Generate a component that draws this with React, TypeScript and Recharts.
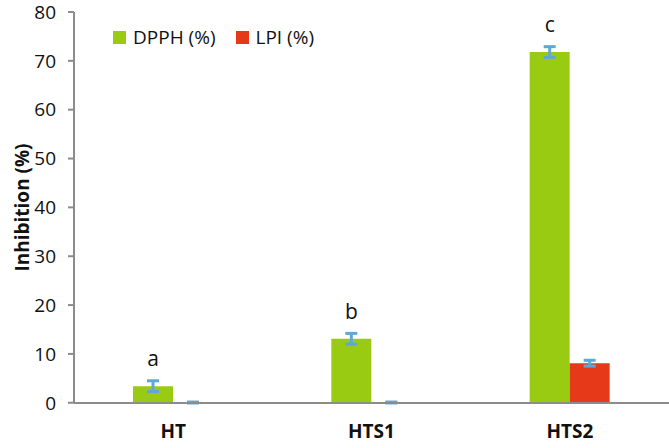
import React from 'react';
import { BarChart, Bar, XAxis, YAxis, ErrorBar, LabelList } from 'recharts';

const categories = ['HT', 'HTS1', 'HTS2'];
const dpph = [3.4, 13.1, 71.8];
const dpphErr = [1.1, 1.1, 1.1];
const lpi = [0.05, 0.05, 8.1];
const lpiErr = [0.1, 0.1, 0.6];
const letters = ['a', 'b', 'c'];
const yTicks = [0, 10, 20, 30, 40, 50, 60, 70, 80];
const seriesNames = ['DPPH (%)', 'LPI (%)'];
const seriesColors = ['#9acb13', '#e5391a'];

const data = categories.map((name, i) => ({
  name,
  dpph: dpph[i],
  dpphErr: dpphErr[i],
  lpi: lpi[i],
  lpiErr: lpiErr[i],
  letter: letters[i]
}));

const FONT = '"Open Sans", "Noto Sans", sans-serif';
const AXIS = '#8c8c8c';
const ERR = '#5fa8d6';

// legend sits over the plot, so keep it out of recharts' layout
const LegendBox = () => <div style={{
  position: 'absolute',
  left: 113,
  top: 24,
  display: 'flex',
  alignItems: 'center',
  fontFamily: FONT,
  fontSize: 19,
  color: '#111'
}}>
    {seriesNames.map((n, i) => <span key={n} style={{ display: 'flex', alignItems: 'center', marginRight: 20 }}>
        <span style={{ width: 13, height: 13, background: seriesColors[i], marginRight: 7, display: 'inline-block' }} />
        {n}
      </span>)}
  </div>;

const App: React.FC = () => {
  return <div style={{ position: 'absolute', left: 0, top: 0, width: 669, height: 448, background: '#fff' }}>
      <BarChart width={669} height={448} data={data} margin={{ top: 12, right: 0, bottom: 10, left: 0 }} barCategoryGap="30%" barGap={0}>
        <XAxis dataKey="name" height={35} stroke={AXIS} strokeWidth={2} tickLine={false} tickMargin={16} tick={{ fill: '#111', fontSize: 19, fontWeight: 700, fontFamily: FONT }} />
        <YAxis width={74} domain={[0, 80]} ticks={yTicks} interval={0} stroke={AXIS} strokeWidth={2} tickSize={6} tickMargin={12} tick={{ fill: '#111', fontSize: 19, fontFamily: FONT }} label={{ value: 'Inhibition (%)', angle: -90, position: 'insideLeft', offset: 22, style: { textAnchor: 'middle', fill: '#111', fontSize: 19, fontWeight: 700, fontFamily: FONT } }} />
        <Bar dataKey="dpph" name={seriesNames[0]} fill={seriesColors[0]} barSize={40} isAnimationActive={false}>
          <ErrorBar dataKey="dpphErr" width={6} strokeWidth={3} stroke={ERR} />
          <LabelList dataKey="letter" position="top" offset={20} style={{ fill: '#111', fontSize: 21, fontFamily: FONT }} />
        </Bar>
        <Bar dataKey="lpi" name={seriesNames[1]} fill={seriesColors[1]} barSize={40} isAnimationActive={false}>
          <ErrorBar dataKey="lpiErr" width={6} strokeWidth={3} stroke={ERR} />
        </Bar>
      </BarChart>
      <LegendBox />
    </div>;
};

export default App;
